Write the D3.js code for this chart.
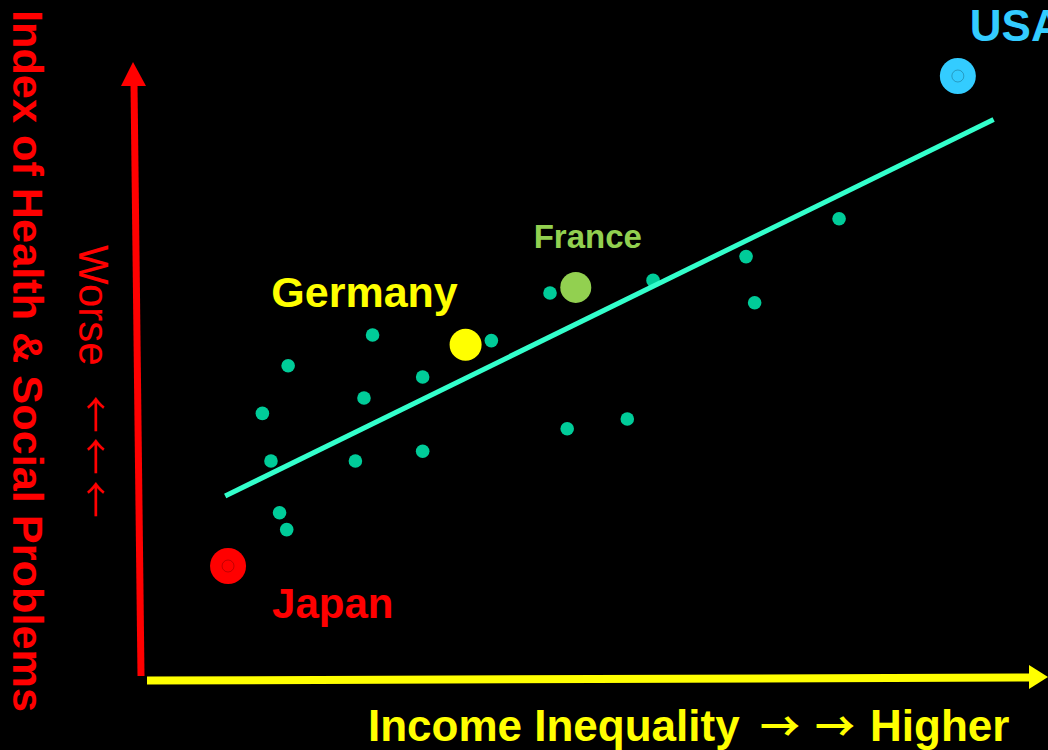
<!DOCTYPE html>
<html>
<head>
<meta charset="utf-8">
<script src="https://cdn.jsdelivr.net/npm/d3@7"></script>
<style>
  html, body { margin: 0; padding: 0; background: #000; }
  svg { display: block; }
  text { font-family: "Liberation Sans", Arial, sans-serif; }
  .fw { font-family: "Noto Sans CJK JP"; font-feature-settings: "fwid" 1; }
</style>
</head>
<body>
<svg id="chart" width="1048" height="750"></svg>
<script>
// ---- Data ----
// Other countries: income inequality (x) vs index of health & social problems (y)
const otherX = [3.64, 3.82, 3.70, 3.76, 3.81, 4.41, 4.35, 4.29, 4.76, 4.76, 5.24, 5.65, 5.77, 6.19, 6.37, 7.02, 7.08, 7.67];
const otherY = [-0.41, -0.07, -0.75, -1.12, -1.24, 0.15, -0.30, -0.75, -0.15, -0.68, 0.11, 0.45, -0.52, -0.45, 0.54, 0.71, 0.38, 0.98];

const highlightNames = ["Japan", "Germany", "France", "USA"];
const highlightX = [3.40, 5.06, 5.83, 8.50];
const highlightY = [-1.50, 0.08, 0.49, 2.00];

const trendX = [3.38, 8.75];
const trendY = [-1.00, 1.69];

const xAxisLabel = "Income Inequality";
const xAxisEnd = "Higher";
const yAxisLabel = "Index of Health & Social Problems";
const yDirectionLabel = "Worse";
const rightArrow = "\u2192";
const upArrow = "\u2191";

// ---- Styles (kept separate from data) ----
const highlightStyle = {
  Japan:   { color: "#FF0000", r: 18,   dx: 44,  dy: 52,  size: 42, anchor: "start",  ring: true },
  Germany: { color: "#FFFF00", r: 16,   dx: -101, dy: -38, size: 43, anchor: "middle", ring: false },
  France:  { color: "#92D050", r: 15.5, dx: 12,  dy: -39, size: 33, anchor: "middle", ring: false },
  USA:     { color: "#33CCFF", r: 18,   dx: 12,  dy: -35, size: 44, anchor: "start",  ring: true }
};

const svg = d3.select("#chart");
svg.append("rect").attr("width", 1048).attr("height", 750).attr("fill", "#000");

const x = d3.scaleLinear().domain([3, 9]).range([170.8, 1029.4]);
const y = d3.scaleLinear().domain([-2, 2.5]).range([636, 6]);

// ---- Axes (arrows) ----
svg.append("line")
  .attr("x1", 141).attr("y1", 676).attr("x2", 134).attr("y2", 84)
  .attr("stroke", "#FF0000").attr("stroke-width", 7);
svg.append("path")
  .attr("d", "M133,62 L146,86 L121,86 Z")
  .attr("fill", "#FF0000");

svg.append("line")
  .attr("x1", 147).attr("y1", 680.5).attr("x2", 1031).attr("y2", 677.5)
  .attr("stroke", "#FFFF00").attr("stroke-width", 8);
svg.append("path")
  .attr("d", "M1048,677 L1029,665 L1029,689 Z")
  .attr("fill", "#FFFF00");

// ---- Other country dots ----
svg.append("g").selectAll("circle")
  .data(otherX.map((v, i) => ({ x: v, y: otherY[i] })))
  .join("circle")
  .attr("cx", d => x(d.x))
  .attr("cy", d => y(d.y))
  .attr("r", 6.8)
  .attr("fill", "#00CC99");

// ---- Trend line ----
svg.append("line")
  .attr("x1", x(trendX[0])).attr("y1", y(trendY[0]))
  .attr("x2", x(trendX[1])).attr("y2", y(trendY[1]))
  .attr("stroke", "#33FFCC").attr("stroke-width", 5);

// ---- Highlighted countries ----
const hl = highlightNames.map((n, i) => ({ name: n, x: highlightX[i], y: highlightY[i] }));
const hg = svg.append("g");
hg.selectAll("circle.big")
  .data(hl).join("circle")
  .attr("class", "big")
  .attr("cx", d => x(d.x)).attr("cy", d => y(d.y))
  .attr("r", d => highlightStyle[d.name].r)
  .attr("fill", d => highlightStyle[d.name].color);
hg.selectAll("circle.ring")
  .data(hl.filter(d => highlightStyle[d.name].ring)).join("circle")
  .attr("class", "ring")
  .attr("cx", d => x(d.x)).attr("cy", d => y(d.y))
  .attr("r", 6)
  .attr("fill", "none")
  .attr("stroke", "rgba(0,0,0,0.3)").attr("stroke-width", 0.8);
hg.selectAll("text")
  .data(hl).join("text")
  .attr("x", d => x(d.x) + highlightStyle[d.name].dx)
  .attr("y", d => y(d.y) + highlightStyle[d.name].dy)
  .attr("text-anchor", d => highlightStyle[d.name].anchor)
  .attr("font-size", d => highlightStyle[d.name].size)
  .attr("font-weight", "bold")
  .attr("fill", d => highlightStyle[d.name].color)
  .text(d => d.name);

// ---- Axis labels ----
svg.append("text")
  .attr("transform", "translate(13,10) rotate(90)")
  .attr("font-size", 43)
  .attr("font-weight", "bold")
  .attr("fill", "#FF0000")
  .attr("textLength", 702)
  .attr("lengthAdjust", "spacingAndGlyphs")
  .text(yAxisLabel);

svg.append("text")
  .attr("transform", "translate(79,245) rotate(90)")
  .attr("font-size", 42)
  .attr("fill", "#FF0000")
  .text(yDirectionLabel);

// three "worse" arrows, one text element
const upArrows = svg.append("text")
  .attr("class", "fw")
  .attr("text-anchor", "middle")
  .attr("font-size", 37)
  .attr("fill", "#FF0000");
[414.5, 457, 499.5].forEach(cy => {
  upArrows.append("tspan")
    .attr("x", 95.5).attr("y", cy + 14)
    .text(upArrow);
});

// x-axis label with arrows
const xLab = svg.append("text")
  .attr("y", 741)
  .attr("font-size", 44)
  .attr("font-weight", "bold")
  .attr("fill", "#FFFF00");
xLab.append("tspan").attr("x", 368).text(xAxisLabel);
[760, 815].forEach(px => {
  xLab.append("tspan")
    .attr("class", "fw")
    .attr("x", px)
    .attr("font-size", 40)
    .text(rightArrow);
});
xLab.append("tspan").attr("x", 870).text(xAxisEnd);
</script>
</body>
</html>
